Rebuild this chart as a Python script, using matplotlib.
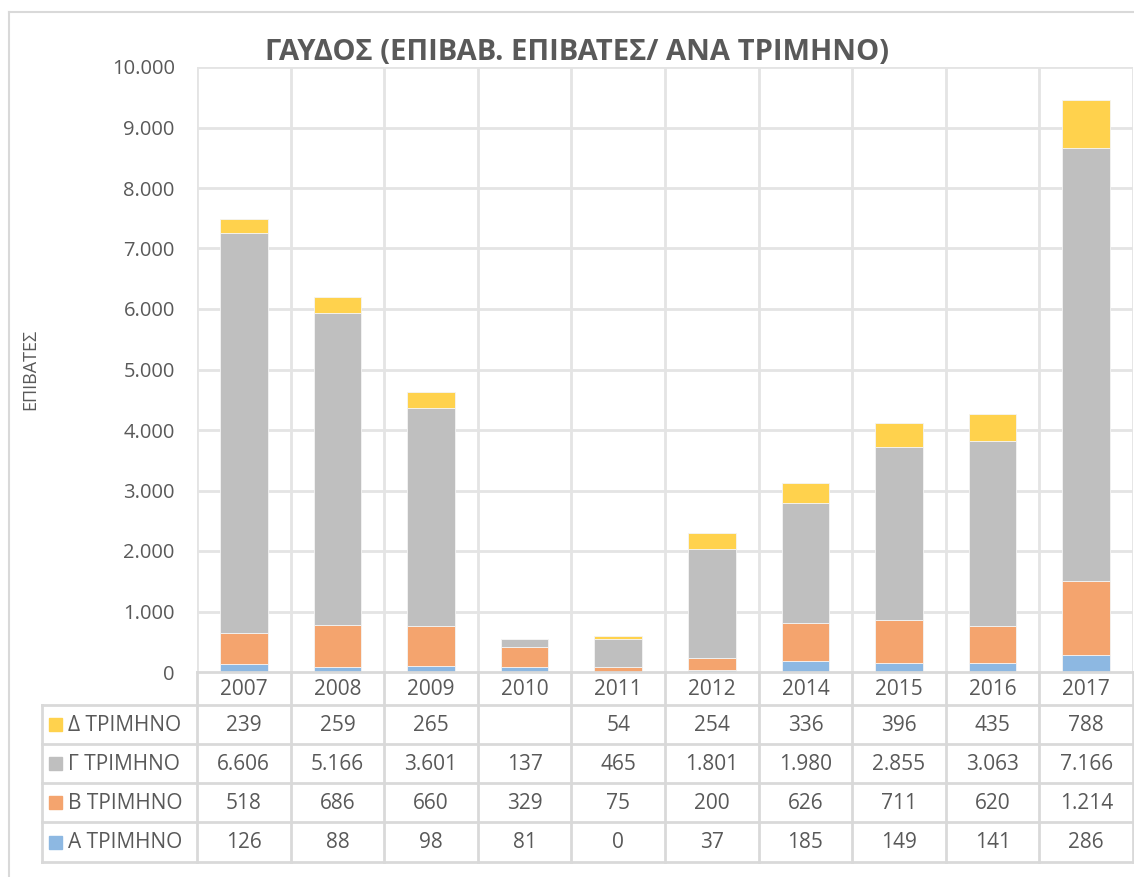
import matplotlib.pyplot as plt
from matplotlib.lines import Line2D
from matplotlib.patches import Rectangle

plt.rcParams['font.family'] = ['Open Sans', 'DejaVu Sans']

years = ['2007', '2008', '2009', '2010', '2011', '2012', '2014', '2015', '2016', '2017']
q_a = [126, 88, 98, 81, 0, 37, 185, 149, 141, 286]
q_b = [518, 686, 660, 329, 75, 200, 626, 711, 620, 1214]
q_g = [6606, 5166, 3601, 137, 465, 1801, 1980, 2855, 3063, 7166]
q_d = [239, 259, 265, None, 54, 254, 336, 396, 435, 788]
series_names = ['Α ΤΡΙΜΗΝΟ', 'Β ΤΡΙΜΗΝΟ', 'Γ ΤΡΙΜΗΝΟ', 'Δ ΤΡΙΜΗΝΟ']
yticks = [0, 1000, 2000, 3000, 4000, 5000, 6000, 7000, 8000, 9000, 10000]

colors = ['#8DB8E2', '#F4A46E', '#BFBFBF', '#FFD24D']
text_col = '#595959'
grid_col = '#E4E4E4'
tab_col = '#D9D9D9'


def fmt(v):
    if v is None:
        return ''
    return '{:,}'.format(v).replace(',', '.')


W, H = 1134, 877
fig = plt.figure(figsize=(W / 100, H / 100), dpi=100)

# chart border
fig.add_artist(Line2D([9 / W, 9 / W], [0, 1 - 12 / H], color=tab_col, lw=1.5))
fig.add_artist(Line2D([9 / W, 1], [1 - 12 / H, 1 - 12 / H], color=tab_col, lw=1.5))

x0, x1 = 197, 1133
y_top, y_zero = 67, 672
ax = fig.add_axes([x0 / W, 1 - y_zero / H, (x1 - x0) / W, (y_zero - y_top) / H])

xs = list(range(len(years)))
series = [q_a, q_b, q_g, q_d]
bottom = [0] * len(years)
for vals, c, name in zip(series, colors, series_names):
    v = [0 if a is None else a for a in vals]
    ax.bar(xs, v, 0.51, bottom=bottom, color=c, edgecolor='#F4F4F4', lw=0.6, label=name, zorder=3)
    bottom = [b + a for b, a in zip(bottom, v)]

ax.set_xlim(-0.5, len(years) - 0.5)
ax.set_ylim(0, 10000)
ax.set_yticks(yticks)
ax.set_yticklabels([fmt(t) for t in yticks], fontsize=14.5, color=text_col)
ax.set_xticks([])
for t in yticks[1:]:
    ax.axhline(t, color=grid_col, lw=2, zorder=0)
for i in range(len(years) + 1):
    ax.axvline(i - 0.5, color=grid_col, lw=2, zorder=0)
for s in ax.spines.values():
    s.set_visible(False)
ax.tick_params(axis='y', length=0, pad=16)
ax.set_ylabel('ΕΠΙΒΑΤΕΣ', fontsize=13, color=text_col, labelpad=52)

fig.text(577 / W, 1 - 52 / H, 'ΓΑΥΔΟΣ (ΕΠΙΒΑΒ. ΕΠΙΒΑΤΕΣ/ ΑΝΑ ΤΡΙΜΗΝΟ)',
         ha='center', va='center', fontsize=21, fontweight='bold', color=text_col)

# data table below the plot
tab_bottom = 862
ta = fig.add_axes([x0 / W, 1 - tab_bottom / H, (x1 - x0) / W, (tab_bottom - y_zero) / H])
ta.set_xlim(-0.5, len(years) - 0.5)
ta.set_ylim(tab_bottom - y_zero, 0)
ta.axis('off')

col_w = (x1 - x0) / len(years)
left = -0.5 - (x0 - 42) / col_w
rows = [0, 33, 72, 111, 150, 190]
kw = dict(color=tab_col, lw=2, clip_on=False)
ta.plot([-0.5, len(years) - 0.5], [0, 0], **kw)
for r in rows[1:]:
    ta.plot([left, len(years) - 0.5], [r, r], **kw)
for i in range(len(years) + 1):
    ta.plot([i - 0.5, i - 0.5], [0, rows[-1]], **kw)
ta.plot([left, left], [rows[1], rows[-1]], **kw)

for i, y in enumerate(years):
    ta.text(i, (rows[0] + rows[1]) / 2 + 1, y, ha='center', va='center', fontsize=15, color=text_col)

table_order = [3, 2, 1, 0]
sq = 13 / col_w
for k, si in enumerate(table_order):
    yc = (rows[k + 1] + rows[k + 2]) / 2
    ta.add_patch(Rectangle((-0.5 - (x0 - 49) / col_w, yc - 6.5), sq, 13,
                           color=colors[si], clip_on=False))
    ta.text(-0.5 - (x0 - 68) / col_w, yc + 1, series_names[si], ha='left', va='center',
            fontsize=15, color=text_col, clip_on=False)
    for i, v in enumerate(series[si]):
        ta.text(i, yc + 1, fmt(v), ha='center', va='center', fontsize=15, color=text_col)

fig.savefig('out.png', dpi=100, facecolor='white')
